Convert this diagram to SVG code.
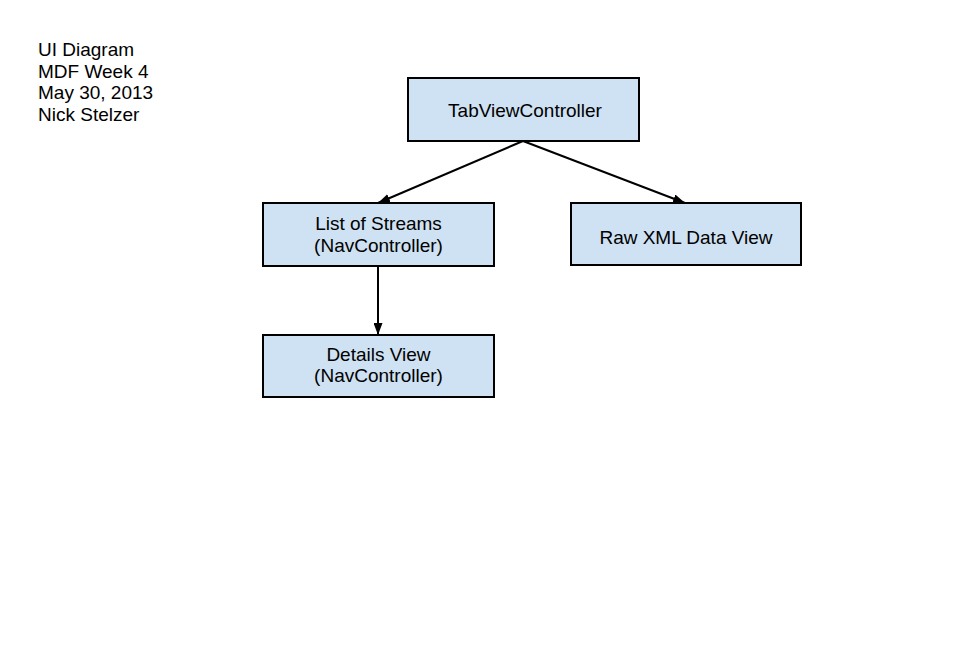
<svg xmlns="http://www.w3.org/2000/svg" width="971" height="651" viewBox="0 0 971 651">
<style>
.box{fill:#cfe2f3;stroke:#000;stroke-width:2}
.t{font-family:"Liberation Sans",Arial,sans-serif;font-size:19px;fill:#000}
.c{text-anchor:middle}
.line{stroke:#000;stroke-width:2;fill:none}
</style>
<defs>
<marker id="ah" viewBox="0 0 12 9" refX="12" refY="4.5" markerWidth="12" markerHeight="9" orient="auto" markerUnits="userSpaceOnUse">
<path d="M0,0 L12,4.5 L0,9 z" fill="#000"/>
</marker>
</defs>
<rect width="971" height="651" fill="#fff"/>
<g id="title">
<text class="t" x="38" y="56">UI Diagram</text>
<text class="t" x="38" y="78">MDF Week 4</text>
<text class="t" x="38" y="99">May 30, 2013</text>
<text class="t" x="38" y="121">Nick Stelzer</text>
</g>
<g id="connectors">
<line class="line" x1="523" y1="141" x2="378" y2="203" marker-end="url(#ah)"/>
<line class="line" x1="523" y1="141" x2="685" y2="203" marker-end="url(#ah)"/>
<line class="line" x1="378" y1="266" x2="378" y2="335" marker-end="url(#ah)"/>
</g>
<g id="tabview">
<rect class="box" x="408" y="78" width="231" height="63"/>
<text class="t c" x="525" y="117">TabViewController</text>
</g>
<g id="streams">
<rect class="box" x="263" y="203" width="231" height="63"/>
<text class="t c" x="378.5" y="230">List of Streams</text>
<text class="t c" x="378.5" y="252">(NavController)</text>
</g>
<g id="rawxml">
<rect class="box" x="571" y="203" width="230" height="62"/>
<text class="t c" x="686" y="244">Raw XML Data View</text>
</g>
<g id="details">
<rect class="box" x="263" y="335" width="231" height="62"/>
<text class="t c" x="378.5" y="361">Details View</text>
<text class="t c" x="378.5" y="382">(NavController)</text>
</g>
</svg>
